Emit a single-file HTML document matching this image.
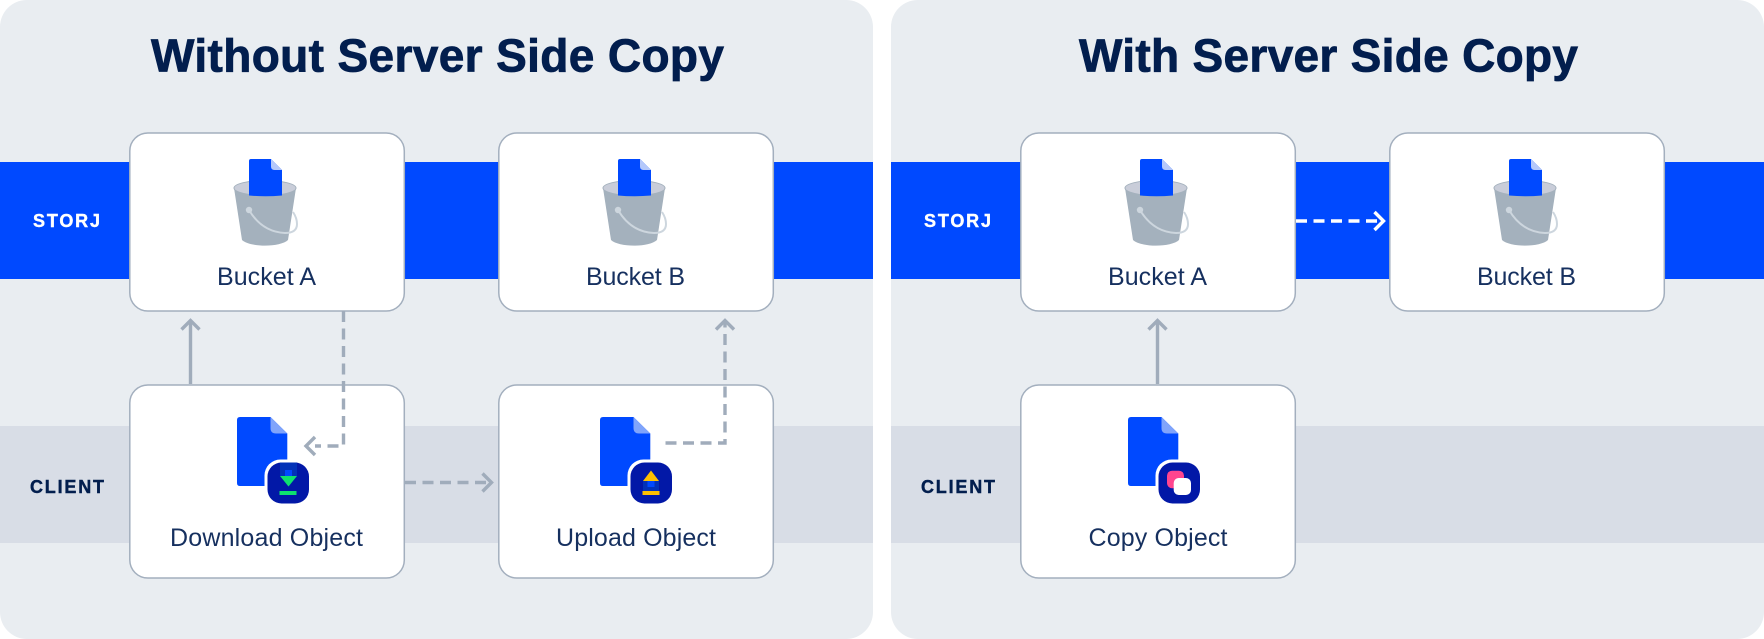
<!DOCTYPE html>
<html lang="en"><head><meta charset="utf-8"><title>Server Side Copy</title>
<style>html,body{margin:0;padding:0;background:#fff}svg{display:block}text{font-family:"Liberation Sans",sans-serif}</style></head>
<body>
<svg width="1764" height="639" viewBox="0 0 1764 639" xmlns="http://www.w3.org/2000/svg">
<defs>
<g id="bk">
<path d="M234 188 L242 240 C250 247.5 280 247.5 288 240 L296 188 Z" fill="#a4b1bd"/>
<ellipse cx="265" cy="188" rx="31" ry="7.5" fill="#c9cdd9" stroke="#a4b1bd" stroke-width="1"/>
<path d="M249 161 Q249 159 251 159 H271 L282 170 V195.5 Q265 197 249 195.5 Z" fill="#0049ff"/>
<path d="M271 159 L282 170 H274.5 Q271 170 271 166.5 Z" fill="#b4c8fb"/>
<path d="M249 210 Q262 232 285 233 Q297 233 297 224 Q297 218 293 212" fill="none" stroke="#cdd6de" stroke-width="2"/>
<circle cx="249" cy="210" r="3.2" fill="#cdd6de"/>
</g>
<g id="fl">
<path d="M237 420 Q237 417 240 417 H270.5 L287.3 433.5 V483 Q287.3 486 284 486 H240 Q237 486 237 483 Z" fill="#0049ff"/>
<path d="M270.5 417 L287.3 433.5 H276 Q270.5 433.5 270.5 428 Z" fill="#80a4fb"/>
<rect x="264.5" y="459.5" width="47" height="46.5" rx="16" fill="#fff"/>
<rect x="267.5" y="462.5" width="41.5" height="41" rx="14" fill="#0218a7"/>
</g>
</defs>

<rect x="0" y="0" width="873" height="639" rx="27" fill="#e9edf1"/>
<rect x="891" y="0" width="873" height="639" rx="27" fill="#e9edf1"/>
<rect x="0" y="162" width="873" height="117" fill="#0049ff"/>
<rect x="891" y="162" width="873" height="117" fill="#0049ff"/>
<rect x="0" y="426" width="873" height="117" fill="#d8dde6"/>
<rect x="891" y="426" width="873" height="117" fill="#d8dde6"/>

<g font-size="46" font-weight="700" fill="#021e4e" stroke="#021e4e" stroke-width="0.8" text-anchor="middle">
<text x="437.5" y="71.7" textLength="573" lengthAdjust="spacing">Without Server Side Copy</text>
<text x="1328.5" y="71.7" textLength="499" lengthAdjust="spacing">With Server Side Copy</text>
</g>

<g font-size="18" font-weight="700" stroke-width="0.4">
<text x="33" y="227" fill="#fff" stroke="#fff" textLength="67" lengthAdjust="spacing">STORJ</text>
<text x="924" y="227" fill="#fff" stroke="#fff" textLength="67" lengthAdjust="spacing">STORJ</text>
<text x="30" y="493" fill="#021e4e" stroke="#021e4e" textLength="74" lengthAdjust="spacing">CLIENT</text>
<text x="921" y="493" fill="#021e4e" stroke="#021e4e" textLength="74" lengthAdjust="spacing">CLIENT</text>
</g>

<g fill="#fff" stroke="#a3afbe" stroke-width="1.5">
<rect x="129.8" y="133" width="274.5" height="178" rx="18"/>
<rect x="498.8" y="133" width="274.5" height="178" rx="18"/>
<rect x="1020.8" y="133" width="274.5" height="178" rx="18"/>
<rect x="1389.8" y="133" width="274.5" height="178" rx="18"/>
<rect x="129.8" y="385" width="274.5" height="193" rx="18"/>
<rect x="498.8" y="385" width="274.5" height="193" rx="18"/>
<rect x="1020.8" y="385" width="274.5" height="193" rx="18"/>
</g>

<use href="#bk"/>
<use href="#bk" transform="translate(369 0)"/>
<use href="#bk" transform="translate(891 0)"/>
<use href="#bk" transform="translate(1260 0)"/>

<use href="#fl"/>
<rect x="280" y="462.5" width="17" height="13.5" fill="#0232b8"/>
<rect x="285" y="470" width="7" height="6" fill="#0049ff"/>
<path d="M280 476 H297 L288.5 486.5 Z" fill="#0ee26f"/>
<rect x="279.5" y="491" width="17" height="4" fill="#0ee26f"/>

<use href="#fl" transform="translate(363 0)"/>
<rect x="643" y="481" width="16" height="10" fill="#0232b8"/>
<rect x="647.5" y="481" width="7" height="6" fill="#0049ff"/>
<path d="M651 470.5 L659 481 H643 Z" fill="#ffbf00"/>
<rect x="642.5" y="491" width="17" height="4" fill="#ffbf00"/>

<use href="#fl" transform="translate(891 0)"/>
<rect x="1167" y="470.7" width="17" height="17.5" rx="5" fill="#ff458f"/>
<rect x="1173.7" y="478" width="17.3" height="17" rx="5" fill="#fff"/>

<g font-size="25" fill="#16305f" text-anchor="middle">
<text x="266.5" y="285" textLength="99" lengthAdjust="spacing">Bucket A</text>
<text x="635.5" y="285" textLength="99" lengthAdjust="spacing">Bucket B</text>
<text x="1157.5" y="285" textLength="99" lengthAdjust="spacing">Bucket A</text>
<text x="1526.5" y="285" textLength="99" lengthAdjust="spacing">Bucket B</text>
<text x="266.5" y="546" textLength="193" lengthAdjust="spacing">Download Object</text>
<text x="636" y="546" textLength="160" lengthAdjust="spacing">Upload Object</text>
<text x="1158" y="546" textLength="139" lengthAdjust="spacing">Copy Object</text>
</g>

<g fill="none" stroke="#a0acbb" stroke-width="3.4">
<path d="M190.5 384V322"/>
<path d="M181.5 329.5 L190.5 320.5 L199.5 329.5"/>
<path d="M1157.5 384V322"/>
<path d="M1148.5 329.5 L1157.5 320.5 L1166.5 329.5"/>
<path d="M343.5 311V446H315" stroke-dasharray="11 6.5"/>
<path d="M315 437 L306 446 L315 455"/>
<path d="M405 482.5H490" stroke-dasharray="11 6.5"/>
<path d="M482.5 473.5 L491.5 482.5 L482.5 491.5"/>
<path d="M665.5 443H725V322" stroke-dasharray="11 6.5"/>
<path d="M716 329.5 L725 320.5 L734 329.5"/>
</g>
<g fill="none" stroke="#fff" stroke-width="3.4">
<path d="M1296 221H1382" stroke-dasharray="11 6.5"/>
<path d="M1374.5 212 L1383.5 221 L1374.5 230"/>
</g>
</svg>
</body></html>
